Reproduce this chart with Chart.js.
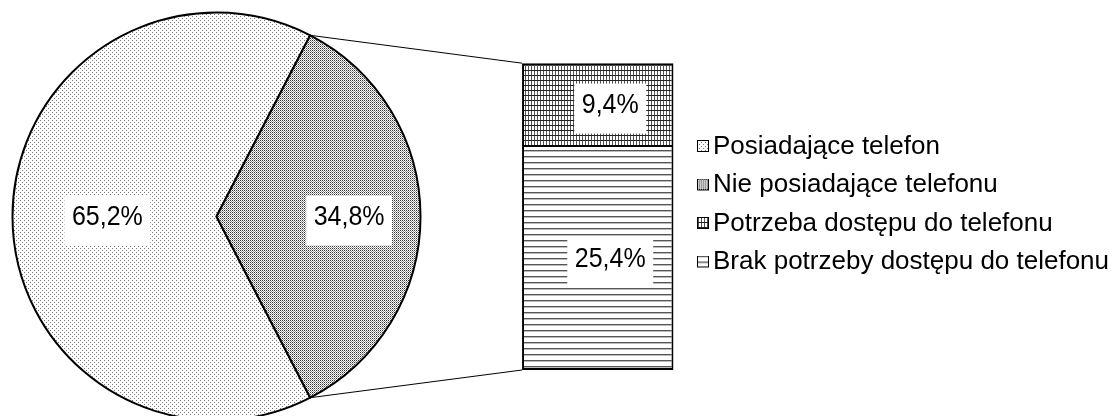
<!DOCTYPE html>
<html>
<head>
<meta charset="utf-8">
<script src="https://cdn.jsdelivr.net/npm/chart.js@4.4.1/dist/chart.umd.min.js"></script>
<style>
  html, body { margin: 0; padding: 0; background: #fff; }
  #wrap { position: relative; width: 1115px; height: 416px; overflow: hidden; background: #fff; }
  #wrap canvas { position: absolute; left: 0; top: 0; }
</style>
</head>
<body>
<div id="wrap">
  <canvas id="pie" width="433" height="433"></canvas>
  <canvas id="bar" width="1200" height="416"></canvas>
</div>
<script>
// Pie part
const pieLabels = ['Posiadające telefon', 'Nie posiadające telefonu'];
const pieValues = [65.2, 34.8];
// Bar part (split of the 34.8% slice), top to bottom
const barLabels = ['Potrzeba dostępu do telefonu', 'Brak potrzeby dostępu do telefonu'];
const barValues = [9.4, 25.4];

const FONT = '"Liberation Sans", Arial, sans-serif';
const LABEL_SIZE = 25;
const LEGEND_SIZE = 26;

Chart.defaults.font.family = FONT;
Chart.defaults.color = '#000';

const fmt = (v) => `${v.toFixed(1).replace('.', ',')}%`;

// Excel-like fill patterns
const makeTile = (w, h, paint) => {
  const c = document.createElement('canvas');
  c.width = w;
  c.height = h;
  const g = c.getContext('2d');
  g.fillStyle = '#fff';
  g.fillRect(0, 0, w, h);
  paint(g);
  return c;
};
const tiles = [
  makeTile(4, 4, (g) => {
    g.fillStyle = '#777';
    g.fillRect(0, 0, 1, 1);
    g.fillRect(2, 2, 1, 1);
  }),
  makeTile(2, 2, (g) => {
    g.fillStyle = '#333';
    g.fillRect(0, 0, 1, 1);
    g.fillStyle = '#999';
    g.fillRect(1, 1, 1, 1);
  }),
  makeTile(3, 5, (g) => {
    g.fillStyle = '#555';
    g.fillRect(0, 0, 1, 5);
    g.fillStyle = '#222';
    g.fillRect(0, 0, 3, 1);
  }),
  makeTile(4, 6, (g) => {
    g.fillStyle = '#555';
    g.fillRect(0, 0, 4, 1);
    g.fillStyle = '#bbb';
    g.fillRect(0, 1, 4, 1);
  }),
];
const fills = tiles.map((t) => t.getContext('2d').createPattern(t, 'repeat'));
const pieFills = fills.slice(0, 2);
const barFills = fills.slice(2);

// legend swatch: patterned square on the right half of a transparent canvas,
// so it sits close to the text like in Excel
const SWATCH = 12;
const makeSwatch = (fill) => {
  const c = document.createElement('canvas');
  c.width = 2 * (SWATCH + 2);
  c.height = SWATCH + 1;
  const g = c.getContext('2d');
  g.fillStyle = fill;
  g.fillRect(SWATCH + 2, 0, SWATCH, SWATCH);
  g.strokeStyle = '#000';
  g.lineWidth = 1;
  g.strokeRect(SWATCH + 2.5, 0.5, SWATCH - 1, SWATCH - 1);
  return c;
};

// white boxed value label, like Excel data labels
const drawLabel = (ctx, text, x, y) => {
  ctx.save();
  ctx.font = `${LABEL_SIZE}px ${FONT}`;
  const w = ctx.measureText(text).width + 15;
  ctx.fillStyle = '#fff';
  ctx.fillRect(x - w / 2, y - 21, w, 50);
  ctx.fillStyle = '#000';
  ctx.textAlign = 'center';
  ctx.textBaseline = 'middle';
  ctx.translate(x, y + 1);
  ctx.scale(1, 1.12);
  ctx.fillText(text, 0, 0);
  ctx.restore();
};

const pieLabelRadius = [0.535, 0.65];

const pieLabelPlugin = {
  id: 'pieLabels',
  afterDatasetsDraw(chart) {
    const meta = chart.getDatasetMeta(0);
    meta.data.forEach((arc, i) => {
      const { x, y, startAngle, endAngle, outerRadius } = arc.getProps(['x', 'y', 'startAngle', 'endAngle', 'outerRadius'], true);
      const mid = (startAngle + endAngle) / 2;
      const r = outerRadius * pieLabelRadius[i];
      drawLabel(chart.ctx, fmt(pieValues[i]), x + Math.cos(mid) * r, y + Math.sin(mid) * r);
    });
  },
};

const pie = new Chart(document.getElementById('pie'), {
  type: 'pie',
  data: {
    labels: pieLabels,
    datasets: [{
      data: pieValues,
      backgroundColor: pieFills,
      borderColor: '#000',
      borderWidth: 2,
    }],
  },
  options: {
    responsive: false,
    animation: false,
    // second slice centred on the right, facing the bar
    rotation: 90 + pieValues[1] * 1.8,
    radius: 204,
    layout: { padding: 0 },
    plugins: { legend: { display: false }, tooltip: { enabled: false } },
  },
  plugins: [pieLabelPlugin],
});

// legend lists all four series
const legendItems = [...pieLabels, ...barLabels].map((t, i) => ({
  text: t,
  pointStyle: makeSwatch(fills[i]),
  fillStyle: fills[i],
  strokeStyle: '#000',
  lineWidth: 1,
  hidden: false,
  fontColor: '#000',
}));

// size the right padding so the legend starts just right of the bar
const legendPad = 12.5;
const pointW = 6;
const measure = document.createElement('canvas').getContext('2d');
measure.font = `${LEGEND_SIZE}px ${FONT}`;
const maxText = Math.max(...legendItems.map((it) => measure.measureText(it.text).width));
const legendWidth = legendPad + pointW + LEGEND_SIZE / 2 + maxText + 10;
const barCanvas = document.getElementById('bar');
const legendLeft = 681.5;
const padRight = barCanvas.width - legendLeft - legendWidth;

const barLabelPlugin = {
  id: 'barLabels',
  afterDatasetsDraw(chart) {
    const { ctx } = chart;
    // leader lines from the pie slice edges to the bar corners
    const arc = pie.getDatasetMeta(0).data[1];
    const a = arc.getProps(['x', 'y', 'startAngle', 'endAngle', 'outerRadius'], true);
    const topBar = chart.getDatasetMeta(1).data[0];
    const botBar = chart.getDatasetMeta(0).data[0];
    const left = topBar.x - topBar.width / 2;
    ctx.save();
    ctx.strokeStyle = '#000';
    ctx.lineWidth = 1;
    ctx.beginPath();
    ctx.moveTo(a.x + Math.cos(a.startAngle) * a.outerRadius, a.y + Math.sin(a.startAngle) * a.outerRadius);
    ctx.lineTo(left, topBar.y);
    ctx.moveTo(a.x + Math.cos(a.endAngle) * a.outerRadius, a.y + Math.sin(a.endAngle) * a.outerRadius);
    ctx.lineTo(left, botBar.base);
    ctx.stroke();
    ctx.restore();

    chart.data.datasets.forEach((ds, i) => {
      const el = chart.getDatasetMeta(i).data[0];
      drawLabel(ctx, fmt(ds.data[0]), el.x + 12.5, (el.y + el.base) / 2);
    });
  },
};

new Chart(barCanvas, {
  type: 'bar',
  data: {
    labels: [''],
    datasets: [
      {
        label: barLabels[1],
        data: [barValues[1]],
        backgroundColor: barFills[1],
        borderColor: '#000',
        borderWidth: { top: 1, left: 2, right: 2, bottom: 2 },
        borderSkipped: false,
        barPercentage: 0.904,
        categoryPercentage: 1,
      },
      {
        label: barLabels[0],
        data: [barValues[0]],
        backgroundColor: barFills[0],
        borderColor: '#000',
        borderWidth: { top: 2, left: 2, right: 2, bottom: 1 },
        borderSkipped: false,
        barPercentage: 0.904,
        categoryPercentage: 1,
      },
    ],
  },
  options: {
    responsive: false,
    animation: false,
    layout: {
      padding: { left: 514, right: padRight, top: 38.5, bottom: 46 },
    },
    scales: {
      x: { stacked: true, display: false },
      y: { stacked: true, display: false, min: 0, max: 37.6 },
    },
    plugins: {
      tooltip: { enabled: false },
      legend: {
        position: 'right',
        maxWidth: 1000,
        onClick: null,
        labels: {
          usePointStyle: true,
          pointStyleWidth: pointW,
          boxHeight: SWATCH,
          padding: legendPad,
          color: '#000',
          font: { family: FONT, size: LEGEND_SIZE },
          generateLabels: () => legendItems,
        },
      },
    },
  },
  plugins: [barLabelPlugin],
});
</script>
</body>
</html>
